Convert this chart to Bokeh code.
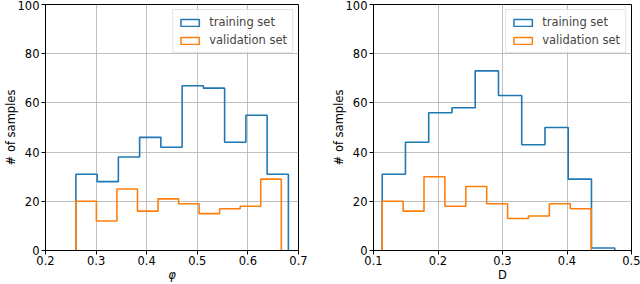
import numpy as np
from bokeh.plotting import figure
from bokeh.layouts import row
from bokeh.models import Range1d, Legend, LegendItem, FixedTicker
from bokeh.embed import file_html
from bokeh.resources import INLINE

# ---- data ----
phi_train_counts = [31, 28, 38, 46, 42, 67, 66, 44, 55, 31]
phi_train_range = (0.26, 0.68)
phi_val_counts = [20, 12, 25, 16, 21, 19, 15, 17, 18, 29]
phi_val_range = (0.26, 0.666)

D_train_counts = [31, 44, 56, 58, 73, 63, 43, 50, 29, 1]
D_train_range = (0.1135, 0.474)
D_val_counts = [20, 16, 30, 18, 26, 19, 13, 14, 19, 17]
D_val_range = (0.1135, 0.4375)

phi_ticks = [0.2, 0.3, 0.4, 0.5, 0.6, 0.7]
D_ticks = [0.1, 0.2, 0.3, 0.4, 0.5]
y_ticks = [0, 20, 40, 60, 80, 100]
series_labels = ["training set", "validation set"]

BLUE = "#1f77b4"
ORANGE = "#ff7f0e"
FONT = "DejaVu Sans"
FS = "11.5px"


def step_xy(rng, counts):
    edges = np.linspace(rng[0], rng[1], len(counts) + 1)
    xs = [edges[0]]
    ys = [0]
    for i, c in enumerate(counts):
        xs += [edges[i], edges[i + 1]]
        ys += [c, c]
    xs.append(edges[-1])
    ys.append(0)
    return xs, ys


def make_panel(xlabel, label_style, xticks, train, val, min_left, min_right):
    p = figure(width=320, height=284, output_backend="svg", toolbar_location=None,
               x_range=Range1d(xticks[0], xticks[-1]), y_range=Range1d(0, 100),
               min_border_left=min_left, min_border_right=min_right,
               min_border_top=4, min_border_bottom=0)
    p.xaxis.ticker = FixedTicker(ticks=xticks)
    p.yaxis.ticker = FixedTicker(ticks=y_ticks)
    p.xaxis.axis_label = xlabel
    p.xaxis.axis_label_text_font_style = label_style
    p.yaxis.axis_label = "# of samples"
    p.yaxis.axis_label_text_font_style = "normal"
    for ax in (p.xaxis, p.yaxis):
        ax.axis_label_text_font = FONT
        ax.axis_label_text_font_size = FS
        ax.major_label_text_font = FONT
        ax.major_label_text_font_size = FS
        ax.major_label_text_color = "#000000"
        ax.axis_label_text_color = "#000000"
        ax.major_tick_in = 0
        ax.major_tick_out = 4
        ax.minor_tick_line_color = None
        ax.axis_line_color = "#000000"
        ax.major_tick_line_color = "#000000"
        ax.major_label_standoff = 1
        ax.axis_label_standoff = 0
    p.yaxis.major_label_standoff = 2
    p.yaxis.axis_label_standoff = -3
    p.grid.grid_line_color = "#b0b0b0"
    p.grid.grid_line_width = 0.8
    p.outline_line_color = "#000000"
    p.outline_line_alpha = 1
    p.outline_line_width = 1

    (trng, tcounts), (vrng, vcounts) = train, val
    tx, ty = step_xy(trng, tcounts)
    vx, vy = step_xy(vrng, vcounts)
    p.line(tx, ty, line_color=BLUE, line_width=1.6)
    p.line(vx, vy, line_color=ORANGE, line_width=1.6)

    # legend proxies (rectangle patches)
    nan = [np.nan]
    r1 = p.quad(left=nan, right=nan, bottom=nan, top=nan, fill_color=None,
                line_color=BLUE, line_width=1.5)
    r2 = p.quad(left=nan, right=nan, bottom=nan, top=nan, fill_color=None,
                line_color=ORANGE, line_width=1.5)
    legend = Legend(items=[LegendItem(label=series_labels[0], renderers=[r1]),
                           LegendItem(label=series_labels[1], renderers=[r2])],
                    location="top_right")
    legend.label_text_font = FONT
    legend.label_text_font_size = FS
    legend.glyph_width = 23
    legend.glyph_height = 9
    legend.label_height = 12
    legend.label_standoff = 8
    legend.padding = 5
    legend.spacing = 4
    legend.margin = 5
    legend.border_line_color = "#cccccc"
    legend.background_fill_alpha = 0.8
    p.add_layout(legend)
    return p


p1 = make_panel("\u03c6", "italic", phi_ticks,
                (phi_train_range, phi_train_counts), (phi_val_range, phi_val_counts),
                43, 22)
p2 = make_panel("D", "normal", D_ticks,
                (D_train_range, D_train_counts), (D_val_range, D_val_counts),
                53, 9)

layout = row(p1, p2)
open("out.html", "w").write(file_html(layout, INLINE))
